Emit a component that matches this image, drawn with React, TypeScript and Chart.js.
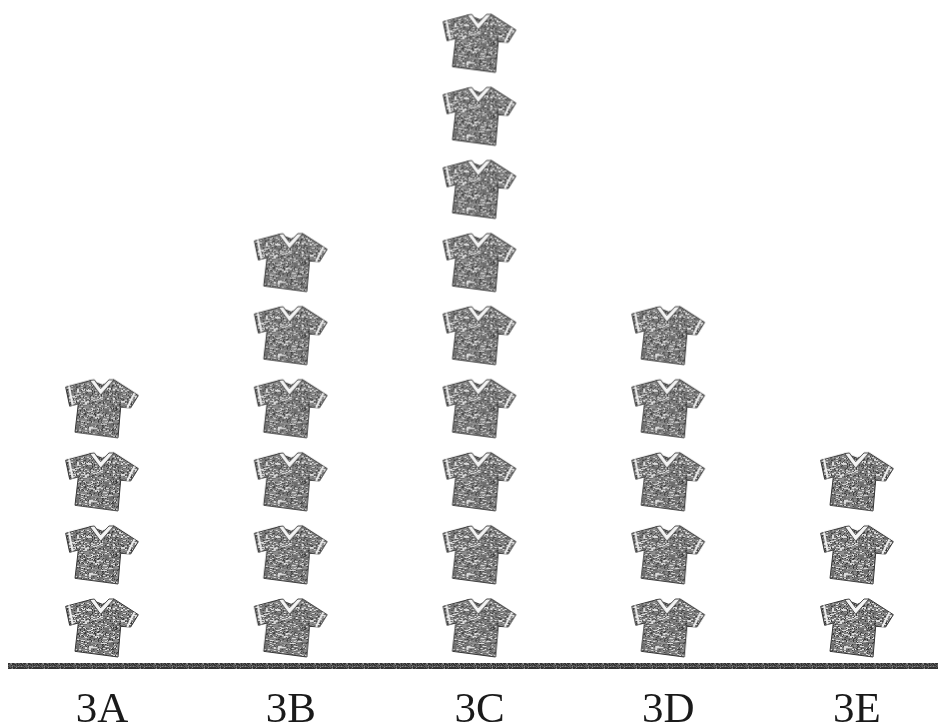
import React, { useEffect, useRef } from "react";
import { Chart, registerables } from "chart.js";

Chart.register(...registerables);

const categories = ["3A", "3B", "3C", "3D", "3E"];
const shirtCounts = [4, 6, 9, 5, 3];

const outline: [number, number][] = [
  [125, 20], [50, 40], [62, 97], [88, 90], [78, 175], [207, 192],
  [215, 100], [245, 102], [268, 65], [195, 18], [160, 34],
];
const collar: [number, number][] = [
  [122, 20], [155, 64], [195, 18], [180, 18], [155, 44], [136, 18],
];
const cuffLeft: [number, number][] = [[60, 37], [71, 94]];
const cuffRight: [number, number][] = [[256, 58], [235, 102]];

function hash(x: number, y: number) {
  const v = Math.sin(x * 12.9898 + y * 78.233) * 43758.5453;
  return v - Math.floor(v);
}

function makeShirt() {
  const c = document.createElement("canvas");
  c.width = 78;
  c.height = 64;
  const g = c.getContext("2d") as CanvasRenderingContext2D;
  const px = (p: [number, number]): [number, number] => [(p[0] - 159) / 3 + 39, (p[1] - 105) / 3 + 32];
  const path = (pts: [number, number][]) => {
    g.beginPath();
    pts.forEach((p, i) => {
      const [x, y] = px(p);
      if (i === 0) g.moveTo(x, y);
      else g.lineTo(x, y);
    });
    g.closePath();
  };
  g.save();
  path(outline);
  g.clip();
  for (let y = 0; y < c.height; y++) {
    for (let x = 0; x < c.width; x++) {
      const h = hash(Math.floor(x / 2), y);
      const h2 = hash(x, y + 40);
      g.fillStyle = h2 < 0.12 ? "#3a3a3a" : h < 0.22 ? "#dcdcdc" : h < 0.62 ? "#6e6e6e" : "#8e8e8e";
      g.fillRect(x, y, 1, 1);
    }
  }
  g.restore();
  path(outline);
  g.strokeStyle = "#333333";
  g.lineWidth = 1;
  g.stroke();
  path(collar);
  g.fillStyle = "#f4f4f4";
  g.fill();
  g.strokeStyle = "#444444";
  g.stroke();
  g.strokeStyle = "#eeeeee";
  g.lineWidth = 2;
  [cuffLeft, cuffRight].forEach((seg) => {
    const a = px(seg[0]);
    const b = px(seg[1]);
    g.beginPath();
    g.moveTo(a[0], a[1]);
    g.lineTo(b[0], b[1]);
    g.stroke();
  });
  return c;
}

function makeRulePattern(): CanvasPattern | string {
  const c = document.createElement("canvas");
  c.width = 16;
  c.height = 8;
  const g = c.getContext("2d") as CanvasRenderingContext2D;
  for (let y = 0; y < 8; y++) {
    for (let x = 0; x < 16; x++) {
      const h = hash(x + 3, y + 9);
      g.fillStyle = h < 0.5 ? "#333333" : h < 0.85 ? "#5a5a5a" : "#858585";
      g.fillRect(x, y, 1, 1);
    }
  }
  return g.createPattern(c, "repeat") || "#555555";
}

export default function App() {
  const ref = useRef<HTMLCanvasElement>(null);

  useEffect(() => {
    if (!ref.current) return;
    const shirt = makeShirt();
    const points: { x: number; y: number }[] = [];
    shirtCounts.forEach((n, i) => {
      for (let k = 1; k <= n; k++) points.push({ x: i, y: k });
    });
    const chart = new Chart(ref.current, {
      type: "scatter",
      data: {
        datasets: [
          {
            label: "Shirts",
            data: points,
            pointStyle: shirt as any,
            pointRadius: 0.2,
            pointHoverRadius: 0.2,
            pointBorderWidth: 0,
            pointHoverBorderWidth: 0,
            clip: false as any,
          },
        ],
      },
      options: {
        animation: false,
        responsive: false,
        maintainAspectRatio: false,
        layout: { padding: { left: 11, right: 3, top: 0, bottom: 0 } },
        plugins: {
          legend: { display: false },
          tooltip: { enabled: false },
          title: { display: false },
        },
        scales: {
          x: {
            type: "linear",
            min: -0.482,
            max: 4.424,
            afterBuildTicks: (s: any) => {
              s.ticks = categories.map((_, i) => ({ value: i }));
            },
            afterFit: (s: any) => {
              s.height = 60;
            },
            ticks: {
              autoSkip: false,
              maxRotation: 0,
              padding: 19,
              color: "#1a1a1a",
              font: { family: "'Liberation Serif'", size: 43 },
              callback: (v: any) => categories[v as number] ?? "",
            },
            grid: { display: true, drawOnChartArea: false, drawTicks: false },
            border: { display: true, color: makeRulePattern() as any, width: 6 },
          },
          y: {
            display: false,
            min: 0.48,
            max: 9.59,
          },
        },
      },
    });
    return () => chart.destroy();
  }, []);

  return (
    <canvas
      ref={ref}
      width={940}
      height={726}
      style={{ position: "fixed", left: 0, top: 0, width: 940, height: 726, background: "#fff" }}
    />
  );
}
